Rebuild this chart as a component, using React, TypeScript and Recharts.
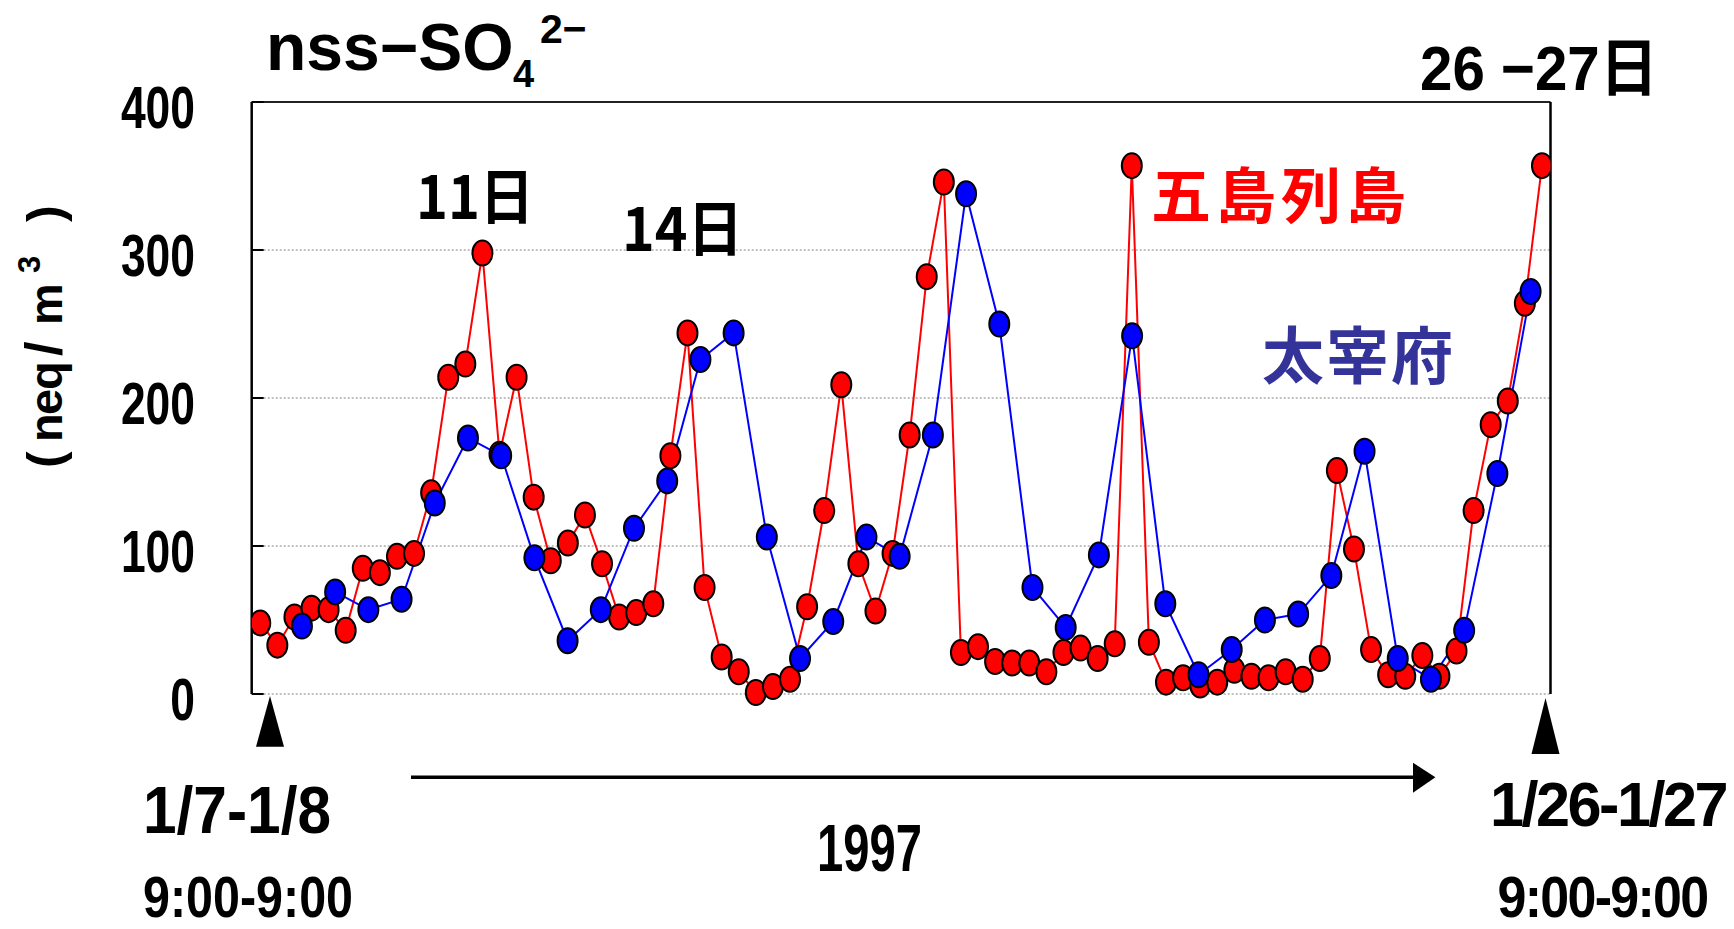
import React from 'react';
import { LineChart, Line, XAxis, YAxis, CartesianGrid, ReferenceLine } from 'recharts';

// 五島列島 (6-hourly, 76 samples)
const gotoValues = [
  48, 33, 52, 58, 57, 43, 85, 82, 93, 95,
  136, 214, 223, 298, 162, 214, 133, 90, 102, 121,
  88, 52, 55, 61, 161, 244, 72, 25, 15, 1,
  5, 10, 59, 124, 209, 88, 56, 95, 175, 282,
  346, 28, 32, 22, 21, 21, 15, 28, 31, 24,
  34, 357, 35, 8, 11, 6, 8, 16, 12, 11,
  15, 10, 24, 151, 98, 30, 13, 12, 26, 12,
  29, 124, 182, 198, 264, 357,
];

// 太宰府 (12-hourly, 38 samples)
const dazaifuValues = [
  46, 69, 57, 64, 129, 173, 161, 92, 36, 57,
  112, 144, 226, 244, 106, 24, 49, 106, 93, 175,
  338, 250, 72, 45, 94, 242, 61, 13, 30, 50,
  54, 80, 164, 24, 10, 43, 149, 272,
];

const yTicks = [0, 100, 200, 300, 400];
const bandCount = gotoValues.length;
const boundaryTicks = Array.from({ length: bandCount - 1 }, (_, i) => i + 1);

const gotoData = gotoValues.map((v, i) => ({ t: i + 0.5, v }));
const dazaifuData = dazaifuValues.map((v, i) => ({ t: i, v }));

const LATIN = "'Liberation Sans', Arial, sans-serif";
const CJK = "'Noto Sans CJK JP', 'Noto Sans CJK SC', sans-serif";
const MIXED = "'Liberation Sans', 'Noto Sans CJK JP', sans-serif";

const makeDot = (fill: string, prefix: string) => (props: any) => {
  const { cx, cy, index } = props;
  if (cx == null || cy == null) return <g key={`${prefix}${index}`} />;
  return (
    <ellipse
      key={`${prefix}${index}`}
      cx={cx}
      cy={cy}
      rx={10}
      ry={12.5}
      fill={fill}
      stroke="#000"
      strokeWidth={2}
    />
  );
};

const redDot = makeDot('#FF0000', 'r');
const blueDot = makeDot('#0000FF', 'b');

const YTick = (props: any) => {
  const { y, payload } = props;
  const label = String(payload.value);
  const len = label.length * 24.7;
  return (
    <text
      x={195 - len}
      y={y + 25.7}
      textLength={len}
      lengthAdjust="spacingAndGlyphs"
      fontFamily={LATIN}
      fontWeight="bold"
      fontSize={60}
      fill="#000"
    >
      {label}
    </text>
  );
};

const Overlay = () => (
  <svg
    width={1734}
    height={929}
    style={{ position: 'absolute', left: 0, top: 0, pointerEvents: 'none' }}
  >
    {/* title */}
    <text fontFamily={LATIN} fontWeight="bold" fill="#000">
      <tspan x={266} y={70} fontSize={66}>nss−SO</tspan>
      <tspan x={513} y={87.3} fontSize={38}>4</tspan>
      <tspan x={540} y={42.7} fontSize={41}>2−</tspan>
    </text>

    {/* y-axis label */}
    <g transform="translate(61.7, 328) rotate(-90)">
      <text y={0} fontFamily={LATIN} fontWeight="bold" fontSize={47} fill="#000">
        <tspan x={-140} fontSize={50}>(</tspan>
        <tspan x={-114}>n</tspan>
        <tspan x={-87}>e</tspan>
        <tspan x={-62}>q</tspan>
        <tspan x={-28} fontSize={52}>/</tspan>
        <tspan x={3} fontSize={47}>m</tspan>
        <tspan x={55} dy={-22} fontSize={31}>3</tspan>
        <tspan x={106} dy={22} fontSize={50}>)</tspan>
      </text>
    </g>

    {/* annotations */}
    <text x={416} y={219} fontFamily={CJK} fontWeight="bold" fontSize={60} fill="#000"
      textLength={118} lengthAdjust="spacingAndGlyphs">11日</text>
    <text x={622} y={251} fontFamily={CJK} fontWeight="bold" fontSize={60} fill="#000"
      textLength={121} lengthAdjust="spacingAndGlyphs">14日</text>
    <text x={1420} y={89.5} fontFamily={MIXED} fontWeight="bold" fontSize={63} fill="#000"
      textLength={238} lengthAdjust="spacingAndGlyphs">26 −27日</text>
    <text x={1151} y={217.8} fontFamily={CJK} fontWeight="bold" fontSize={60} fill="#FF0000"
      textLength={255} lengthAdjust="spacing">五島列島</text>
    <text x={1262} y={378.5} fontFamily={CJK} fontWeight="bold" fontSize={62} fill="#333399"
      textLength={191} lengthAdjust="spacing">太宰府</text>

    {/* markers below axis */}
    <polygon points="270,696 256,746.7 284,746.7" fill="#000" />
    <polygon points="1545.5,698 1531.5,754 1559.5,754" fill="#000" />

    {/* arrow */}
    <line x1={411} y1={777.3} x2={1418} y2={777.3} stroke="#000" strokeWidth={3.5} />
    <polygon points="1413,762.7 1435.4,777.3 1413,792.7" fill="#000" />

    {/* bottom labels */}
    <text x={143} y={833.3} fontFamily={LATIN} fontWeight="bold" fontSize={66} fill="#000"
      textLength={188} lengthAdjust="spacingAndGlyphs">1/7-1/8</text>
    <text x={143} y={916.5} fontFamily={LATIN} fontWeight="bold" fontSize={58} fill="#000"
      textLength={210} lengthAdjust="spacingAndGlyphs">9:00-9:00</text>
    <text x={817} y={870.7} fontFamily={LATIN} fontWeight="bold" fontSize={66} fill="#000"
      textLength={105} lengthAdjust="spacingAndGlyphs">1997</text>
    <text x={1490} y={825.7} fontFamily={LATIN} fontWeight="bold" fontSize={63} fill="#000"
      letterSpacing={-2.6} textLength={236} lengthAdjust="spacingAndGlyphs">1/26-1/27</text>
    <text x={1497.5} y={916.5} fontFamily={LATIN} fontWeight="bold" fontSize={58} fill="#000"
      letterSpacing={-1.9} textLength={210} lengthAdjust="spacingAndGlyphs">9:00-9:00</text>
  </svg>
);

export default function App() {
  return (
    <div style={{ position: 'absolute', left: 0, top: 0, width: 1734, height: 929, background: '#fff' }}>
      <LineChart
        width={1734}
        height={929}
        margin={{ top: 102, right: 183.5, bottom: 235, left: 151.7 }}
      >
        <CartesianGrid xAxisId="r" vertical={false} stroke="#808080" strokeDasharray="2 2" />
        <XAxis
          xAxisId="r"
          type="number"
          dataKey="t"
          domain={[0, bandCount]}
          ticks={boundaryTicks}
          interval={0}
          allowDataOverflow
          height={0}
          tickSize={-12}
          tick={false}
          tickLine={{ stroke: '#000', strokeWidth: 1.6 }}
          axisLine={{ stroke: '#000', strokeWidth: 3.5 }}
        />
        <XAxis
          xAxisId="b"
          type="number"
          dataKey="t"
          domain={[-1.513, 37.6]}
          allowDataOverflow
          hide
        />
        <YAxis
          type="number"
          domain={[0, 400]}
          ticks={yTicks}
          interval={0}
          width={100}
          tickSize={-12}
          tickMargin={0}
          tick={<YTick />}
          tickLine={{ stroke: '#000', strokeWidth: 2 }}
          axisLine={{ stroke: '#000', strokeWidth: 2.5 }}
        />
        <ReferenceLine xAxisId="r" y={400} stroke="#222" strokeWidth={2} />
        <ReferenceLine xAxisId="r" x={bandCount} stroke="#000" strokeWidth={2.5} />
        <Line
          xAxisId="r"
          data={gotoData}
          dataKey="v"
          stroke="#FF0000"
          strokeWidth={2}
          dot={redDot}
          activeDot={false}
          isAnimationActive={false}
        />
        <Line
          xAxisId="b"
          data={dazaifuData}
          dataKey="v"
          stroke="#0000FF"
          strokeWidth={2}
          dot={blueDot}
          activeDot={false}
          isAnimationActive={false}
        />
      </LineChart>
      <Overlay />
    </div>
  );
}
